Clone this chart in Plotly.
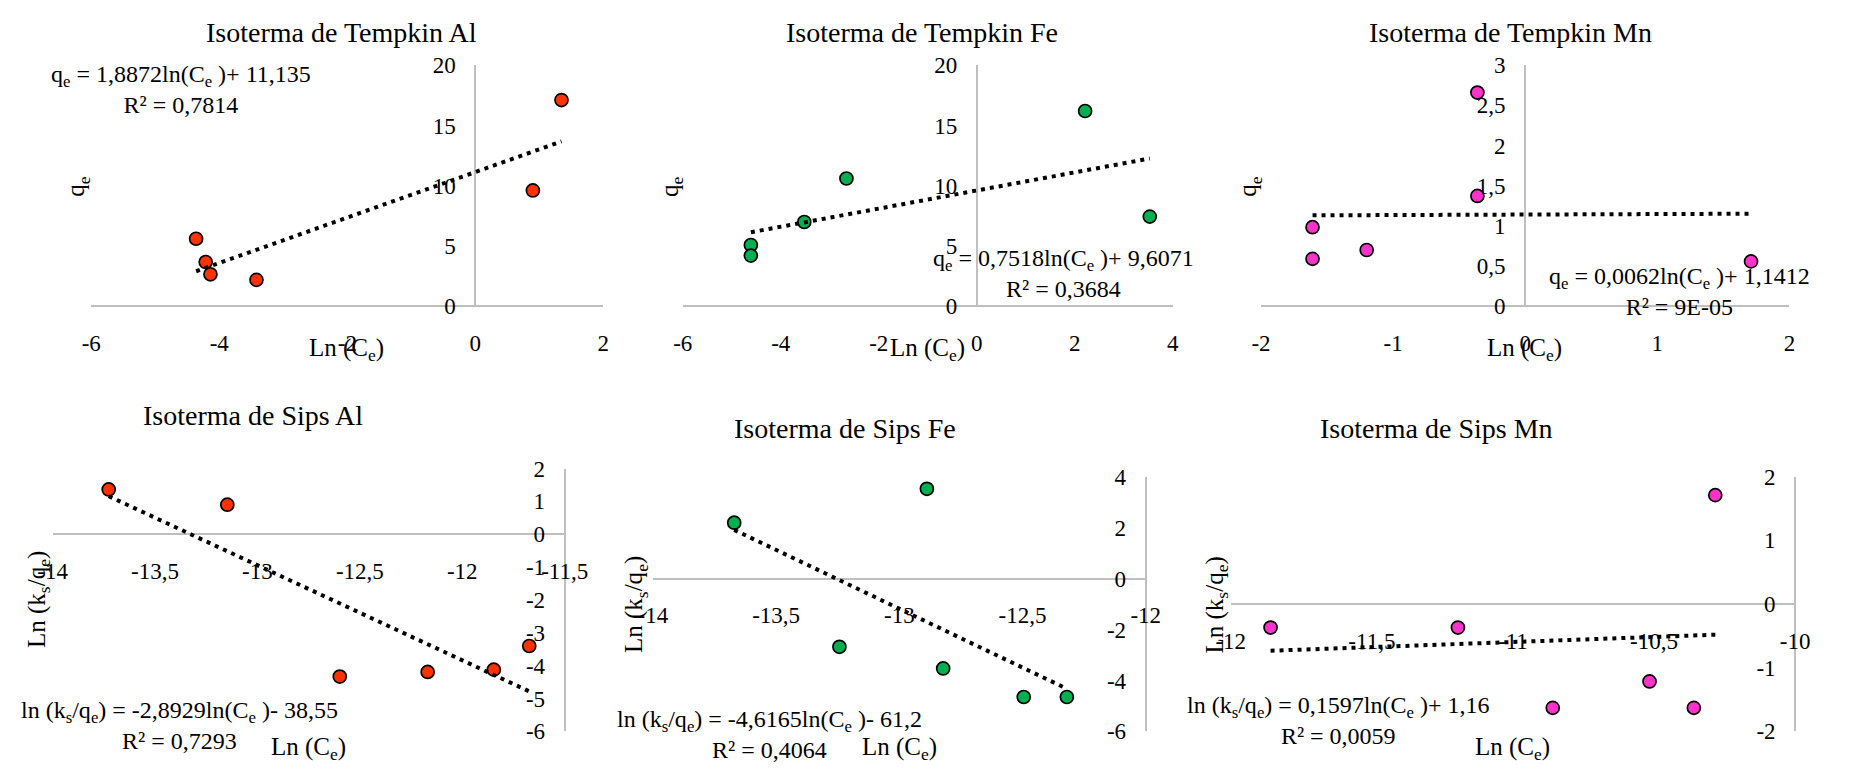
import plotly.graph_objects as go

# ---------------- data ----------------
# Tempkin isotherm: q_e vs Ln(C_e)
al_tempkin_x = [1.346, 0.899, -4.362, -4.212, -4.138, -3.419]
al_tempkin_y = [17.11, 9.61, 5.60, 3.67, 2.65, 2.19]
fe_tempkin_x = [2.21, 3.53, -2.66, -3.52, -4.61, -4.61]
fe_tempkin_y = [16.2, 7.44, 10.6, 6.99, 5.08, 4.20]
mn_tempkin_x = [-0.362, -0.362, -1.61, -1.61, -1.20, 1.71]
mn_tempkin_y = [2.66, 1.373, 0.984, 0.59, 0.70, 0.558]

# Sips isotherm: Ln(k_s/q_e) vs Ln(C_e)
al_sips_x = [-13.726, -13.147, -12.598, -12.169, -11.846, -11.673]
al_sips_y = [1.364, 0.90, -4.33, -4.19, -4.12, -3.40]
fe_sips_x = [-13.67, -12.888, -13.243, -12.822, -12.495, -12.32]
fe_sips_y = [2.19, 3.52, -2.68, -3.53, -4.65, -4.65]
mn_sips_x = [-11.859, -11.195, -10.859, -10.516, -10.359, -10.283]
mn_sips_y = [-0.37, -0.37, -1.63, -1.216, -1.63, 1.708]

# linear trendline coefficients (slope, intercept)
al_tempkin_fit = (1.8872, 11.135)
fe_tempkin_fit = (0.7518, 9.6071)
mn_tempkin_fit = (0.0062, 1.1412)
al_sips_fit = (-2.8929, -38.55)
fe_sips_fit = (-4.6165, -61.2)
mn_sips_fit = (0.1597, 1.16)

# R² of each trendline
al_tempkin_r2 = "0,7814"
fe_tempkin_r2 = "0,3684"
mn_tempkin_r2 = "9E-05"
al_sips_r2 = "0,7293"
fe_sips_r2 = "0,4064"
mn_sips_r2 = "0,0059"

# tick labels
tempkin_al_xticks = ["-6", "-4", "-2", "0", "2"]
tempkin_fe_xticks = ["-6", "-4", "-2", "0", "2", "4"]
tempkin_mn_xticks = ["-2", "-1", "0", "1", "2"]
tempkin_alfe_yticks = ["0", "5", "10", "15", "20"]
tempkin_mn_yticks = ["0", "0,5", "1", "1,5", "2", "2,5", "3"]
sips_al_xticks = ["-14", "-13,5", "-13", "-12,5", "-12", "-11,5"]
sips_fe_xticks = ["-14", "-13,5", "-13", "-12,5", "-12"]
sips_mn_xticks = ["-12", "-11,5", "-11", "-10,5", "-10"]
sips_al_yticks = ["-6", "-5", "-4", "-3", "-2", "-1", "0", "1", "2"]
sips_fe_yticks = ["-6", "-4", "-2", "0", "2", "4"]
sips_mn_yticks = ["-2", "-1", "0", "1", "2"]

# ---------------- styling ----------------
W, H = 1854, 778
FONT = "Liberation Serif, Times New Roman, serif"
AXIS_GREY = "#bfbfbf"
C_AL = "#ff3300"
C_FE = "#00b050"
C_MN = "#ff33cc"


def px_x(v):
    return v / W


def px_y(v):
    return 1 - v / H


def num(t):
    return float(t.replace(",", "."))


panels = [
    # points, colour, trendline, tick labels, plot box in px (x0, x1, ytop, ybot), axis style
    dict(x=al_tempkin_x, y=al_tempkin_y, c=C_AL, fit=al_tempkin_fit,
         xt=tempkin_al_xticks, yt=tempkin_alfe_yticks, box=(77.9, 601.0, 55, 304), kind="tempkin"),
    dict(x=fe_tempkin_x, y=fe_tempkin_y, c=C_FE, fit=fe_tempkin_fit,
         xt=tempkin_fe_xticks, yt=tempkin_alfe_yticks, box=(682.1, 1182.7, 55, 304), kind="tempkin"),
    dict(x=mn_tempkin_x, y=mn_tempkin_y, c=C_MN, fit=mn_tempkin_fit,
         xt=tempkin_mn_xticks, yt=tempkin_mn_yticks, box=(1272.8, 1812.5, 55, 304), kind="tempkin"),
    dict(x=al_sips_x, y=al_sips_y, c=C_AL, fit=al_sips_fit,
         xt=sips_al_xticks, yt=sips_al_yticks, box=(38.4, 561.5, 471.7, 743.3), kind="sips"),
    dict(x=fe_sips_x, y=fe_sips_y, c=C_FE, fit=fe_sips_fit,
         xt=sips_fe_xticks, yt=sips_fe_yticks, box=(651.6, 1155.0, 480, 743.3), kind="sips"),
    dict(x=mn_sips_x, y=mn_sips_y, c=C_MN, fit=mn_sips_fit,
         xt=sips_mn_xticks, yt=sips_mn_yticks, box=(1241.9, 1818.4, 480, 743.3), kind="sips"),
]

fig = go.Figure()
layout = dict(
    width=W, height=H, margin=dict(l=0, r=0, t=0, b=0),
    paper_bgcolor="white", plot_bgcolor="rgba(0,0,0,0)",
    showlegend=False, font=dict(family=FONT, color="black"),
)

tick_font = dict(family=FONT, size=23, color="black")

for i, p in enumerate(panels, start=1):
    xs = "" if i == 1 else str(i)
    xa, ya = "x" + xs, "y" + xs
    x0, x1, yt_, yb_ = p["box"]
    xvals = [num(t) for t in p["xt"]]
    yvals = [num(t) for t in p["yt"]]
    xr = [xvals[0], xvals[-1]]
    yr = [yvals[0], yvals[-1]]

    if p["kind"] == "tempkin":
        # vertical axis crosses at x = 0, horizontal axis at the bottom (y = 0)
        vx_px = x0 + (0 - xr[0]) / (xr[1] - xr[0]) * (x1 - x0)
        hy_px = yb_
    else:
        # vertical axis at the right end, horizontal axis crosses at y = 0
        vx_px = x1
        hy_px = yt_ + (yr[1] - 0) / (yr[1] - yr[0]) * (yb_ - yt_)

    layout["xaxis" + xs] = dict(
        domain=[px_x(x0), px_x(x1)], range=xr, anchor="free", position=px_y(hy_px),
        tickvals=xvals, ticktext=p["xt"], showgrid=False, zeroline=False,
        showline=True, linecolor=AXIS_GREY, linewidth=2, ticks="",
        ticklabelstandoff=16, tickfont=tick_font, layer="below traces",
        fixedrange=True,
    )
    layout["yaxis" + xs] = dict(
        domain=[px_y(yb_), px_y(yt_)], range=yr, anchor="free", position=px_x(vx_px),
        side="left", tickvals=yvals, ticktext=p["yt"], showgrid=False, zeroline=False,
        showline=True, linecolor=AXIS_GREY, linewidth=2, ticks="",
        ticklabelstandoff=14, tickfont=tick_font, layer="below traces",
        fixedrange=True,
    )

    fig.add_trace(go.Scatter(
        x=p["x"], y=p["y"], mode="markers", xaxis=xa, yaxis=ya,
        marker=dict(size=13, color=p["c"], line=dict(color="black", width=1.7)),
        cliponaxis=False,
    ))
    a, b = p["fit"]
    fx = [min(p["x"]), max(p["x"])]
    fy = [a * v + b for v in fx]
    fig.add_trace(go.Scatter(
        x=fx, y=fy, mode="lines", xaxis=xa, yaxis=ya,
        line=dict(color="black", width=4, dash="4px,5px"),
    ))

fig.update_layout(**layout)

# ---------------- text ----------------
ann = []


def text(x, y, s, size, angle=0):
    ann.append(dict(
        x=px_x(x), y=px_y(y), xref="paper", yref="paper", text=s, showarrow=False,
        xanchor="center", yanchor="middle", textangle=angle, align="center",
        font=dict(family=FONT, size=size, color="black"),
    ))


# chart titles
text(334, 21, "Isoterma de Tempkin Al", 28)
text(926, 21, "Isoterma de Tempkin Fe", 28)
text(1528, 21, "Isoterma de Tempkin Mn", 28)
text(243, 417, "Isoterma de Sips Al", 28)
text(848, 430, "Isoterma de Sips Fe", 28)
text(1452, 430, "Isoterma de Sips Mn", 28)

# axis titles
x_title = "Ln (C<sub>e</sub>)"
text(339, 349, x_title, 25)
text(932, 349, x_title, 25)
text(1542, 349, x_title, 25)
text(300, 761, x_title, 25)
text(903, 761, x_title, 25)
text(1530, 761, x_title, 25)
text(64, 180, "q<sub>e</sub>", 25, -90)
text(670, 180, "q<sub>e</sub>", 25, -90)
text(1261, 180, "q<sub>e</sub>", 25, -90)
sips_y = "Ln (k<sub>s</sub>/q<sub>e</sub>)"
text(24, 607, sips_y, 25, -90)
text(634, 612, sips_y, 25, -90)
text(1227, 613, sips_y, 25, -90)


def eq_tempkin(fit, r2):
    a, b = fit
    s_a = f"{a:.4f}".replace(".", ",")
    s_b = f"{b:g}".replace(".", ",")
    return f"q<sub>e</sub> = {s_a}ln(C<sub>e</sub> )+ {s_b}<br>R² = {r2}"


def eq_sips(fit, r2):
    a, b = fit
    s_a = f"{a:.4f}".replace(".", ",")
    sign = "+" if b >= 0 else "-"
    s_b = f"{abs(b):g}".replace(".", ",")
    return f"ln (k<sub>s</sub>/q<sub>e</sub>) = {s_a}ln(C<sub>e</sub> ){sign} {s_b}<br>R² = {r2}"


# trendline equations
text(170, 80, eq_tempkin(al_tempkin_fit, al_tempkin_r2), 24)
text(1071, 270, eq_tempkin(fe_tempkin_fit, fe_tempkin_r2), 24)
text(1700, 289, eq_tempkin(mn_tempkin_fit, mn_tempkin_r2), 24)
text(168, 737, eq_sips(al_sips_fit, al_sips_r2), 24)
text(771, 747, eq_sips(fe_sips_fit, fe_sips_r2), 24)
text(1352, 732, eq_sips(mn_sips_fit, mn_sips_r2), 24)

fig.update_layout(annotations=ann)
fig.write_html("out.html")
